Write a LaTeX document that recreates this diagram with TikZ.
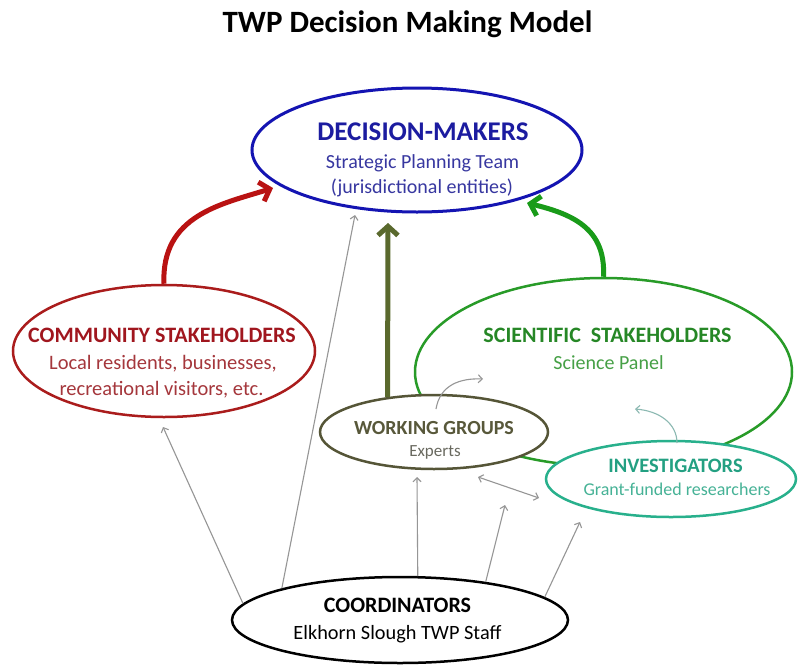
\documentclass[tikz,border=0pt]{standalone}
\usepackage{fontspec}
\setmainfont{Carlito}
\usetikzlibrary{shapes.geometric,arrows.meta}
\definecolor{dmblue}{RGB}{20,20,178}
\definecolor{dmtext}{RGB}{28,28,160}
\definecolor{dmsub}{RGB}{55,55,160}
\definecolor{csred}{RGB}{170,28,28}
\definecolor{cstext}{RGB}{160,22,30}
\definecolor{cssub}{RGB}{165,55,60}
\definecolor{arrred}{RGB}{185,18,18}
\definecolor{scigreen}{RGB}{40,155,40}
\definecolor{scitext}{RGB}{38,135,38}
\definecolor{scisub}{RGB}{70,160,70}
\definecolor{arrgreen}{RGB}{25,155,25}
\definecolor{olive}{RGB}{90,105,45}
\definecolor{wgline}{RGB}{85,85,55}
\definecolor{wgtext}{RGB}{88,88,58}
\definecolor{wgsub}{RGB}{105,105,95}
\definecolor{invteal}{RGB}{40,176,140}
\definecolor{invtext}{RGB}{35,160,130}
\definecolor{invsub}{RGB}{70,178,150}
\definecolor{arrgray}{RGB}{150,150,150}
\definecolor{arrteal}{RGB}{140,185,178}
\begin{document}
\begin{tikzpicture}[x=1pt,y=-1pt,
  oval/.style={ellipse, draw, line width=2.5pt, inner sep=0pt, fill=white},
  lbl/.style={anchor=base, inner sep=0pt, align=center},
  garrow/.style={draw=arrgray, line width=1.1pt, -{Straight Barb[length=4pt,width=8pt]}},
  barrow/.style={line width=5pt, -{Straight Barb[length=9pt,width=20pt]}}
]
\fill[white] (0,0) rectangle (806,667);
\useasboundingbox (0,0) rectangle (806,667);

% title
\node[lbl, font=\bfseries\fontsize{31}{36}\selectfont] (title) at (407.5,32) {TWP Decision Making Model};

% ellipses
\node[oval, draw=scigreen, minimum width=377pt, minimum height=188pt] (sci) at (603.5,372) {};
\node[oval, draw=dmblue, line width=3pt, minimum width=330pt, minimum height=124pt] (dm) at (417,150) {};
\node[oval, draw=csred, minimum width=302pt, minimum height=132pt] (cs) at (164,351) {};
\node[oval, draw=wgline, minimum width=228pt, minimum height=74pt] (wg) at (434,432) {};
\node[oval, draw=invteal, minimum width=250pt, minimum height=76pt] (inv) at (671,479) {};
\node[oval, draw=black, minimum width=336pt, minimum height=86pt] (co) at (400,620) {};

% texts
\node[lbl, text=dmtext, font=\bfseries\fontsize{27}{32}\selectfont] (dmt) at (423,140) {DECISION-MAKERS};
\node[lbl, text=dmsub, font=\fontsize{20}{24}\selectfont] (dms1) at (422.5,168) {Strategic Planning Team};
\node[lbl, text=dmsub, font=\fontsize{20}{24}\selectfont] (dms2) at (422,193) {(jurisdictional entities)};

\node[lbl, text=cstext, font=\bfseries\fontsize{22}{26}\selectfont] (cst) at (162,342) {COMMUNITY STAKEHOLDERS};
\node[lbl, text=cssub, font=\fontsize{20.5}{24}\selectfont] (css1) at (163,369) {Local residents, businesses,};
\node[lbl, text=cssub, font=\fontsize{20.5}{24}\selectfont] (css2) at (161.5,395) {recreational visitors, etc.};

\node[lbl, text=scitext, font=\bfseries\fontsize{22}{26}\selectfont] (scit) at (607.5,342) {SCIENTIFIC\hspace{0.45em}STAKEHOLDERS};
\node[lbl, text=scisub, font=\fontsize{20}{24}\selectfont] (scis) at (608.5,369) {Science Panel};

\node[lbl, text=wgtext, font=\bfseries\fontsize{20}{24}\selectfont] (wgt) at (434,434) {WORKING GROUPS};
\node[lbl, text=wgsub, font=\fontsize{17}{20}\selectfont] (wgs) at (435,456) {Experts};

\node[lbl, text=invtext, font=\bfseries\fontsize{20.5}{24}\selectfont] (invt) at (675.5,472) {INVESTIGATORS};
\node[lbl, text=invsub, font=\fontsize{18}{22}\selectfont] (invs) at (677,495) {Grant-funded researchers};

\node[lbl, text=black, font=\bfseries\fontsize{22}{26}\selectfont] (cot) at (397.5,612) {COORDINATORS};
\node[lbl, text=black, font=\fontsize{20.3}{24}\selectfont] (cos) at (397.5,639) {Elkhorn Slough TWP Staff};

% free-end coordinates
\coordinate (redtip) at (273,188);
\coordinate (greentip) at (527,203);
\coordinate (olivetip) at (388,223);
\coordinate (t1) at (163,427);
\coordinate (t2) at (355,215);
\coordinate (t3) at (417,477);
\coordinate (t4) at (505,505);
\coordinate (t5) at (580,522);
\coordinate (wgs0) at (436,409);
\coordinate (wgs1) at (483,379);
\coordinate (invs0) at (677,443);
\coordinate (invs1) at (635,409);
\coordinate (d0) at (478,477);
\coordinate (d1) at (539,498);

% thick arrows
\draw[barrow, draw=arrred] (cs.north) .. controls (161,215) and (222,204) .. (redtip);
\draw[barrow, draw=arrgreen] (sci.north) .. controls (606,228) and (572,214) .. (greentip);
\draw[barrow, draw=olive] (wg.143.6) -- (olivetip);

% thin arrows from coordinators
\draw[garrow] (co.174) -- (t1);
\draw[garrow] (co.165) -- (t2);
\draw[garrow] (co.68) -- (t3);
\draw[garrow] (co.24) -- (t4);
\draw[garrow] (co.9) -- (t5);

% other thin arrows
\draw[garrow] (wgs0) .. controls (440,385) and (460,378) .. (wgs1);
\draw[garrow, draw=arrteal] (invs0) .. controls (677,424) and (660,411) .. (invs1);
\draw[draw=arrgray, line width=1.1pt, {Straight Barb[length=4pt,width=8pt]}-{Straight Barb[length=4pt,width=8pt]}] (d0) -- (d1);
\end{tikzpicture}
\end{document}
